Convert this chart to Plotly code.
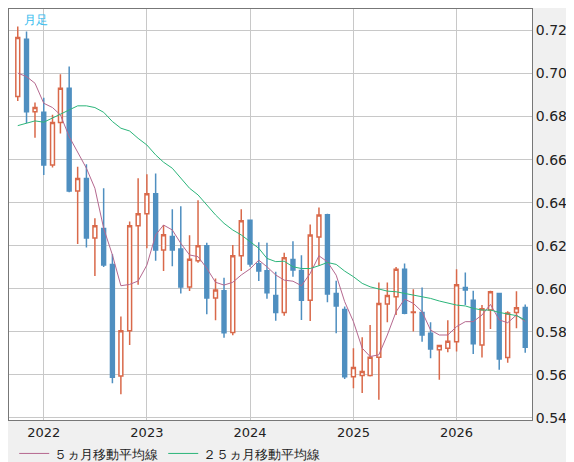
import pandas as pd
import plotly.graph_objects as go

# monthly bars, Oct 2021 .. Sep 2026
months = pd.date_range("2021-10-01", periods=60, freq="MS")

opens = [0.6893, 0.716, 0.6823, 0.682, 0.6575, 0.6772, 0.6932, 0.6454, 0.6512, 0.6236,
         0.628, 0.6113, 0.5595, 0.5805, 0.6293, 0.6349, 0.6442, 0.618, 0.6243, 0.6185,
         0.6008, 0.613, 0.62, 0.5957, 0.5991, 0.5797, 0.6153, 0.6318, 0.6116, 0.6084,
         0.5969, 0.589, 0.6136, 0.6085, 0.5947, 0.6241, 0.6344, 0.5978, 0.5904, 0.5591,
         0.5597, 0.5597, 0.5682, 0.5929, 0.5963, 0.609, 0.589, 0.589, 0.5793, 0.5717,
         0.5724, 0.5754, 0.6006, 0.5946, 0.5739, 0.5901, 0.5978, 0.5681, 0.5889, 0.5913]
highs = [0.7219, 0.7195, 0.6865, 0.6888, 0.6808, 0.6997, 0.7033, 0.6567, 0.6578, 0.6327,
         0.6467, 0.616, 0.5871, 0.6312, 0.6513, 0.6532, 0.6536, 0.6296, 0.6369, 0.6383,
         0.6248, 0.6411, 0.6214, 0.6048, 0.6051, 0.6203, 0.6369, 0.6318, 0.6216, 0.6214,
         0.6079, 0.6167, 0.6221, 0.6156, 0.6298, 0.6377, 0.6349, 0.6037, 0.5917, 0.5724,
         0.5775, 0.5832, 0.6029, 0.6029, 0.6101, 0.6117, 0.5998, 0.6006, 0.5844, 0.5739,
         0.5853, 0.609, 0.6076, 0.5991, 0.5924, 0.5991, 0.5981, 0.5895, 0.5988, 0.5927]
lows = [0.6873, 0.677, 0.6702, 0.6529, 0.6563, 0.6722, 0.6448, 0.6208, 0.6192, 0.6059,
        0.6101, 0.5561, 0.551, 0.5738, 0.6019, 0.6188, 0.613, 0.6082, 0.6105, 0.5978,
        0.5989, 0.6121, 0.5882, 0.5854, 0.5772, 0.5784, 0.6082, 0.6102, 0.6036, 0.5954,
        0.5851, 0.5875, 0.6056, 0.5855, 0.585, 0.6107, 0.5937, 0.5793, 0.558, 0.5538,
        0.5515, 0.5592, 0.5484, 0.5844, 0.5878, 0.5881, 0.5801, 0.5754, 0.5677, 0.5577,
        0.5705, 0.5708, 0.5924, 0.5697, 0.568, 0.5813, 0.5623, 0.5656, 0.5816, 0.5703]
closes = [0.7167, 0.6822, 0.6842, 0.6575, 0.6772, 0.6932, 0.6454, 0.6512, 0.6236, 0.6293,
          0.611, 0.5589, 0.5805, 0.6293, 0.6349, 0.6442, 0.618, 0.6251, 0.618, 0.6008,
          0.6137, 0.62, 0.5957, 0.5994, 0.5795, 0.6153, 0.6316, 0.6115, 0.6082, 0.5981,
          0.5889, 0.6144, 0.6087, 0.5947, 0.625, 0.6343, 0.5975, 0.592, 0.5591, 0.5634,
          0.5615, 0.5682, 0.5931, 0.5969, 0.609, 0.5886, 0.5892, 0.5785, 0.572, 0.5736,
          0.5756, 0.6019, 0.5994, 0.5744, 0.5907, 0.5986, 0.5674, 0.5887, 0.5912, 0.5728]

# moving averages as drawn
ma5 = [0.7002, 0.6986, 0.6955, 0.6862, 0.6842, 0.6808, 0.6707, 0.6637, 0.656, 0.6467,
       0.6281, 0.6157, 0.6014, 0.602, 0.6036, 0.611, 0.625, 0.6296, 0.6273, 0.6211,
       0.6157, 0.6149, 0.6095, 0.603, 0.6017, 0.603, 0.6064, 0.6092, 0.6133, 0.6102,
       0.6064, 0.604, 0.6035, 0.6014, 0.6071, 0.6153, 0.6125, 0.6063, 0.594, 0.5847,
       0.5724, 0.5685, 0.5693, 0.5785, 0.5893, 0.5952, 0.5932, 0.5893, 0.5808, 0.5785,
       0.5785, 0.5824, 0.5847, 0.5847, 0.5878, 0.5927, 0.5855, 0.5842, 0.5878, 0.5847]
ma25 = [0.6758, 0.6769, 0.678, 0.6774, 0.6792, 0.6811, 0.6831, 0.685, 0.685, 0.6842,
        0.682, 0.6777, 0.6746, 0.6733, 0.6699, 0.6668, 0.6622, 0.6588, 0.656, 0.6513,
        0.6467, 0.6436, 0.6389, 0.6343, 0.6304, 0.6273, 0.625, 0.6219, 0.6188, 0.6141,
        0.6126, 0.6128, 0.6102, 0.6094, 0.6094, 0.6107, 0.6122, 0.6113, 0.6082, 0.6056,
        0.6025, 0.6009, 0.5997, 0.5989, 0.5986, 0.5978, 0.5968, 0.5963, 0.5955, 0.5943,
        0.5932, 0.5924, 0.592, 0.5909, 0.5901, 0.5901, 0.589, 0.5881, 0.5875, 0.5855]

fig = go.Figure()
fig.add_trace(go.Candlestick(
    x=months, open=opens, high=highs, low=lows, close=closes,
    increasing=dict(line=dict(color="#d9694a", width=1.5), fillcolor="white"),
    decreasing=dict(line=dict(color="#4f8fc0", width=1.5), fillcolor="#4f8fc0"),
    whiskerwidth=0, showlegend=False, hoverinfo="skip"))
fig.add_trace(go.Scatter(x=months, y=ma5, mode="lines", name="５ヵ月移動平均線",
                         line=dict(color="#b5688f", width=1)))
fig.add_trace(go.Scatter(x=months, y=ma25, mode="lines", name="２５ヵ月移動平均線",
                         line=dict(color="#2bb57a", width=1)))

fig.add_annotation(text="月足", xref="paper", yref="paper", x=0.025, y=0.995,
                   xanchor="left", yanchor="top", showarrow=False,
                   font=dict(color="#33bbee", size=12))

fig.update_layout(
    width=574, height=462,
    margin=dict(l=1, r=50, t=1, b=50, autoexpand=False),
    paper_bgcolor="#f0f0f0", plot_bgcolor="white",
    font=dict(family="DejaVu Sans", size=13, color="#222"),
    showlegend=True,
    legend=dict(orientation="h", x=0.01, y=-0.045, xanchor="left", yanchor="top",
                bgcolor="rgba(0,0,0,0)", font=dict(size=13)),
    xaxis=dict(type="date", range=["2021-08-31", "2026-09-25"], rangeslider=dict(visible=False),
               showgrid=True, gridcolor="#c8c8c8", dtick="M12", tickformat="%Y",
               tick0="2022-01-01", showline=True, linecolor="#777", mirror=True, ticks="",
               automargin=False),
    yaxis=dict(range=[0.539, 0.730], side="right", dtick=0.02, tickformat=".2f",
               showgrid=True, gridcolor="#c8c8c8", showline=True, linecolor="#777",
               mirror=True, ticks="", automargin=False, tickfont=dict(size=14)),
)

fig.write_html("out.html")
